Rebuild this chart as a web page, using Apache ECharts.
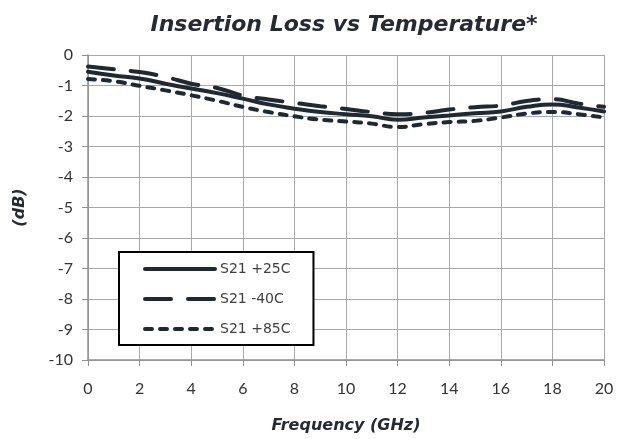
<!DOCTYPE html>
<html>
<head>
<meta charset="utf-8">
<script src="https://cdn.jsdelivr.net/npm/echarts@6/dist/echarts.min.js"></script>
<style>html,body{margin:0;padding:0;background:#fff}#c{width:617px;height:439px}</style>
</head>
<body>
<div id="c"></div>
<script>
const freq = [0,1,2,3,4,5,6,7,8,9,10,11,12,13,14,15,16,17,18,19,20];
const s21_25C = [-0.55,-0.67,-0.77,-0.94,-1.10,-1.25,-1.43,-1.62,-1.76,-1.87,-1.94,-2.01,-2.12,-2.05,-1.98,-1.91,-1.85,-1.70,-1.62,-1.72,-1.85];
const s21_m40C = [-0.38,-0.47,-0.56,-0.72,-0.94,-1.08,-1.33,-1.46,-1.57,-1.68,-1.77,-1.87,-1.94,-1.90,-1.79,-1.71,-1.66,-1.51,-1.45,-1.59,-1.70];
const s21_85C = [-0.79,-0.86,-1.01,-1.16,-1.32,-1.50,-1.70,-1.87,-2.01,-2.12,-2.18,-2.25,-2.36,-2.27,-2.20,-2.16,-2.05,-1.92,-1.87,-1.94,-2.05];
const xTicks = {min:0, max:20, interval:2};
const yTicks = {min:-10, max:0, interval:1};
const names = ['S21 +25C','S21 -40C','S21 +85C'];

const col = '#1f2933';
const dashes = ['solid', [26,17], [7,8]];
function pairs(v){ return freq.map((f,i)=>[f,v[i]]); }
const chart = echarts.init(document.getElementById('c'), null, {renderer:'canvas'});
chart.setOption({
  animation:false,
  backgroundColor:'#fff',
  title:{text:'Insertion Loss vs Temperature*', left:339, textAlign:'center', top:9,
    textStyle:{fontFamily:'DejaVu Sans', fontStyle:'italic', fontWeight:'bold', fontSize:22, color:'#262b33'}},
  grid:{left:88, right:13, top:55, bottom:79, containLabel:false},
  xAxis:{type:'value', min:xTicks.min, max:xTicks.max, interval:xTicks.interval,
    name:'Frequency (GHz)', nameLocation:'middle', nameGap:58,
    nameTextStyle:{fontFamily:'DejaVu Sans', fontStyle:'italic', fontWeight:'bold', fontSize:16, color:'#262b33'},
    axisLine:{onZero:false, lineStyle:{color:'#909090', width:1.5}},
    axisTick:{show:true, length:6, lineStyle:{color:'#909090'}},
    axisLabel:{fontFamily:'Lato', fontSize:16, color:'#333', margin:21},
    splitLine:{show:true, lineStyle:{color:'#a8a8a8', width:1}}},
  yAxis:{type:'value', min:yTicks.min, max:yTicks.max, interval:yTicks.interval,
    name:'(dB)', nameLocation:'middle', nameGap:60, nameRotate:90,
    nameTextStyle:{fontFamily:'DejaVu Sans', fontStyle:'italic', fontWeight:'bold', fontSize:16, color:'#262b33'},
    axisLine:{show:true, onZero:false, lineStyle:{color:'#909090', width:1.5}},
    axisTick:{show:true, length:6, lineStyle:{color:'#909090'}},
    axisLabel:{fontFamily:'Lato', fontSize:16, color:'#333', margin:15},
    splitLine:{show:true, lineStyle:{color:'#a8a8a8', width:1}}},
  legend:{orient:'vertical', left:119, top:252, itemWidth:70, itemHeight:14, itemGap:16,
    padding:[10,23,9,24], borderColor:'#000', borderWidth:2, backgroundColor:'#fff',
    textStyle:{fontFamily:'DejaVu Sans', fontSize:14, color:'#404040'},
    itemStyle:{opacity:0},
    data:names.map((n,i)=>({name:n, itemStyle:{opacity:0},
      lineStyle:{color:col, width:4, type:dashes[i], cap:'round'}}))},
  series:names.map((n,i)=>({
    name:n, type:'line', data:pairs([s21_25C,s21_m40C,s21_85C][i]), smooth:true,
    showSymbol:false, symbol:'none',
    lineStyle:{color:col, width:4, type:dashes[i], cap:'round'}, itemStyle:{color:col}}))
});
</script>
</body>
</html>
